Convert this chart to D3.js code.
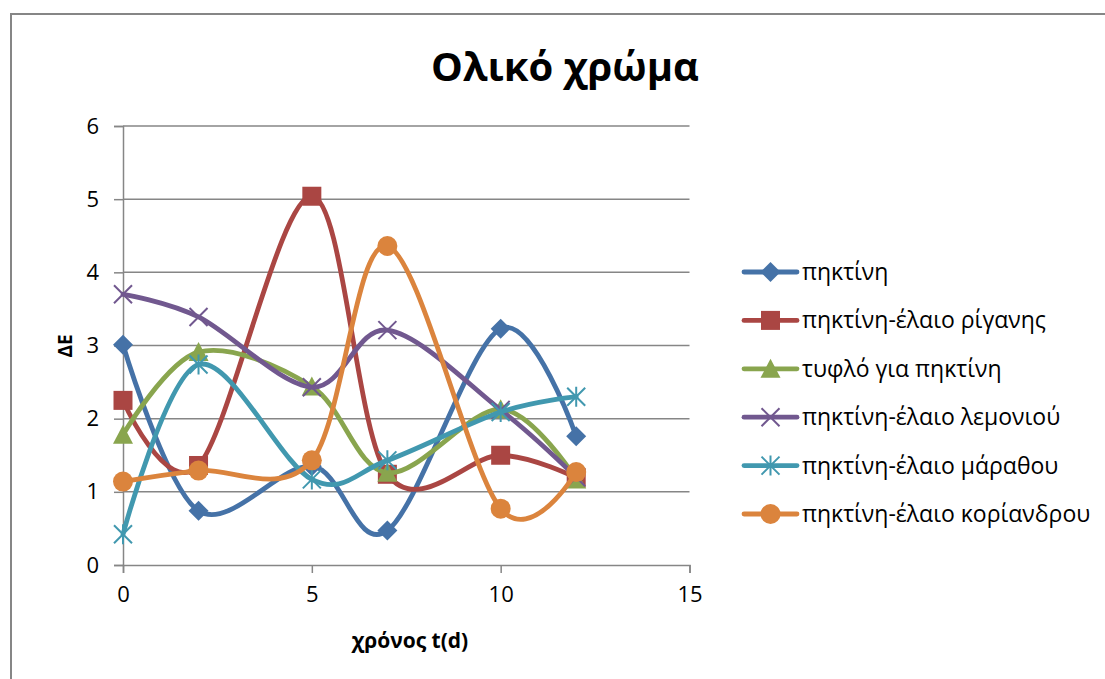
<!DOCTYPE html>
<html>
<head>
<meta charset="utf-8">
<script src="https://cdn.jsdelivr.net/npm/d3@7"></script>
<style>
  html, body { margin: 0; padding: 0; background: #ffffff; }
  svg { display: block; }
  text { font-family: "Open Sans", "Noto Sans", sans-serif; fill: #000; }
</style>
</head>
<body>
<svg id="chart" width="1105" height="679"></svg>
<script>
// Sampling days
const days = [0, 2, 5, 7, 10, 12];

// ΔΕ per series
const pektini        = [3.01, 0.74, 1.35, 0.47, 3.23, 1.76];
const riganis        = [2.25, 1.36, 5.04, 1.24, 1.50, 1.19];
const tyflo          = [1.78, 2.91, 2.44, 1.26, 2.13, 1.17];
const lemoniou       = [3.70, 3.39, 2.43, 3.21, 2.12, 1.20];
const marathou       = [0.42, 2.74, 1.17, 1.43, 2.09, 2.30];
const koriandrou     = [1.14, 1.29, 1.43, 4.36, 0.77, 1.27];

const seriesNames = [
  "πηκτίνη",
  "πηκτίνη-έλαιο ρίγανης",
  "τυφλό για πηκτίνη",
  "πηκτίνη-έλαιο λεμονιού",
  "πηκτίνη-έλαιο μάραθου",
  "πηκτίνη-έλαιο κορίανδρου"
];
const seriesValues = [pektini, riganis, tyflo, lemoniou, marathou, koriandrou];
const seriesColors = ["#4572A7", "#AA4643", "#89A54E", "#71588F", "#4198AF", "#DB843D"];
const seriesMarkers = ["diamond", "square", "triangle", "x", "star", "circle"];

const xTicks = [0, 5, 10, 15];
const yTicks = [0, 1, 2, 3, 4, 5, 6];

const titleText = "Ολικό χρώμα";
const xTitle = "χρόνος t(d)";
const yTitle = "ΔΕ";

const svg = d3.select("#chart");
const grid = "#868686";

const x = d3.scaleLinear().domain([0, 15]).range([123, 689.5]);
const y = d3.scaleLinear().domain([0, 6]).range([565, 126]);

// chart frame (open on the right and bottom edges)
svg.append("path")
  .attr("d", "M11,690V14H1110")
  .attr("fill", "none")
  .attr("stroke", grid)
  .attr("stroke-width", 2);

// title
svg.append("text")
  .attr("x", 565).attr("y", 81)
  .attr("text-anchor", "middle")
  .style("font-size", "40px").style("font-weight", "bold")
  .text(titleText);

// horizontal gridlines
svg.append("g").selectAll("line")
  .data(yTicks.filter(d => d > 0))
  .join("line")
  .attr("x1", x(0)).attr("x2", x(15))
  .attr("y1", d => y(d)).attr("y2", d => y(d))
  .attr("stroke", grid).attr("stroke-width", 1.5);

// y axis
const yAxis = svg.append("g")
  .attr("transform", `translate(${x(0)},0)`)
  .call(d3.axisLeft(y).tickValues(yTicks).tickSize(9).tickPadding(15).tickFormat(d3.format("d")));
yAxis.select(".domain").attr("stroke", grid).attr("stroke-width", 1.5);
yAxis.selectAll(".tick line").attr("stroke", grid).attr("stroke-width", 1.5);
yAxis.selectAll(".tick text")
  .style("font-size", "22px").style("font-family", "'Open Sans', sans-serif").attr("fill", "#000");

// x axis
const xAxis = svg.append("g")
  .attr("transform", `translate(0,${y(0)})`)
  .call(d3.axisBottom(x).tickValues(xTicks).tickSize(8).tickPadding(13).tickFormat(d3.format("d")));
xAxis.select(".domain").attr("stroke", grid).attr("stroke-width", 1.5);
xAxis.selectAll(".tick line").attr("stroke", grid).attr("stroke-width", 1.5);
xAxis.selectAll(".tick text")
  .style("font-size", "22px").style("font-family", "'Open Sans', sans-serif").attr("fill", "#000");

// axis titles
svg.append("text")
  .attr("x", 410).attr("y", 648)
  .attr("text-anchor", "middle")
  .style("font-size", "21px").style("font-weight", "bold")
  .text(xTitle);

svg.append("text")
  .attr("transform", "translate(72,346) rotate(-90)")
  .attr("text-anchor", "middle")
  .style("font-size", "19px").style("font-weight", "bold")
  .text(yTitle);

// marker drawing
function drawMarker(g, type, color, cx, cy) {
  const s = 10;
  if (type === "diamond") {
    g.append("path")
      .attr("d", `M${cx},${cy - s}L${cx + s},${cy}L${cx},${cy + s}L${cx - s},${cy}Z`)
      .attr("fill", color);
  } else if (type === "square") {
    g.append("rect")
      .attr("x", cx - 9.5).attr("y", cy - 9.5).attr("width", 19).attr("height", 19)
      .attr("fill", color);
  } else if (type === "triangle") {
    g.append("path")
      .attr("d", `M${cx},${cy - 10}L${cx + 10},${cy + 9}L${cx - 10},${cy + 9}Z`)
      .attr("fill", color);
  } else if (type === "circle") {
    g.append("circle")
      .attr("cx", cx).attr("cy", cy).attr("r", 10)
      .attr("fill", color);
  } else if (type === "x") {
    const d = 9;
    g.append("path")
      .attr("d", `M${cx - d},${cy - d}L${cx + d},${cy + d}M${cx - d},${cy + d}L${cx + d},${cy - d}`)
      .attr("stroke", color).attr("stroke-width", 2).attr("fill", "none");
  } else if (type === "star") {
    const d = 9;
    g.append("path")
      .attr("d", `M${cx - d},${cy - d}L${cx + d},${cy + d}M${cx - d},${cy + d}L${cx + d},${cy - d}M${cx},${cy - d - 1}L${cx},${cy + d + 1}`)
      .attr("stroke", color).attr("stroke-width", 2).attr("fill", "none");
  }
}

// series
const line = d3.line()
  .x(d => x(d[0]))
  .y(d => y(d[1]))
  .curve(d3.curveCardinal.tension(0));

seriesValues.forEach((vals, i) => {
  const pts = days.map((d, j) => [d, vals[j]]);
  const g = svg.append("g");
  g.append("path")
    .attr("d", line(pts))
    .attr("fill", "none")
    .attr("stroke", seriesColors[i])
    .attr("stroke-width", 4.8)
    .attr("stroke-linejoin", "round")
    .attr("stroke-linecap", "round");
  pts.forEach(p => drawMarker(g, seriesMarkers[i], seriesColors[i], x(p[0]), y(p[1])));
});

// legend
const legendY0 = 272, legendStep = 48.4;
seriesNames.forEach((name, i) => {
  const g = svg.append("g");
  const ly = legendY0 + i * legendStep;
  g.append("line")
    .attr("x1", 744).attr("x2", 797)
    .attr("y1", ly).attr("y2", ly)
    .attr("stroke", seriesColors[i]).attr("stroke-width", 4.8)
    .attr("stroke-linecap", "round");
  drawMarker(g, seriesMarkers[i], seriesColors[i], 770.5, ly);
  g.append("text")
    .attr("x", 802).attr("y", ly)
    .attr("dy", "0.35em")
    .style("font-size", "23px")
    .text(name);
});
</script>
</body>
</html>
